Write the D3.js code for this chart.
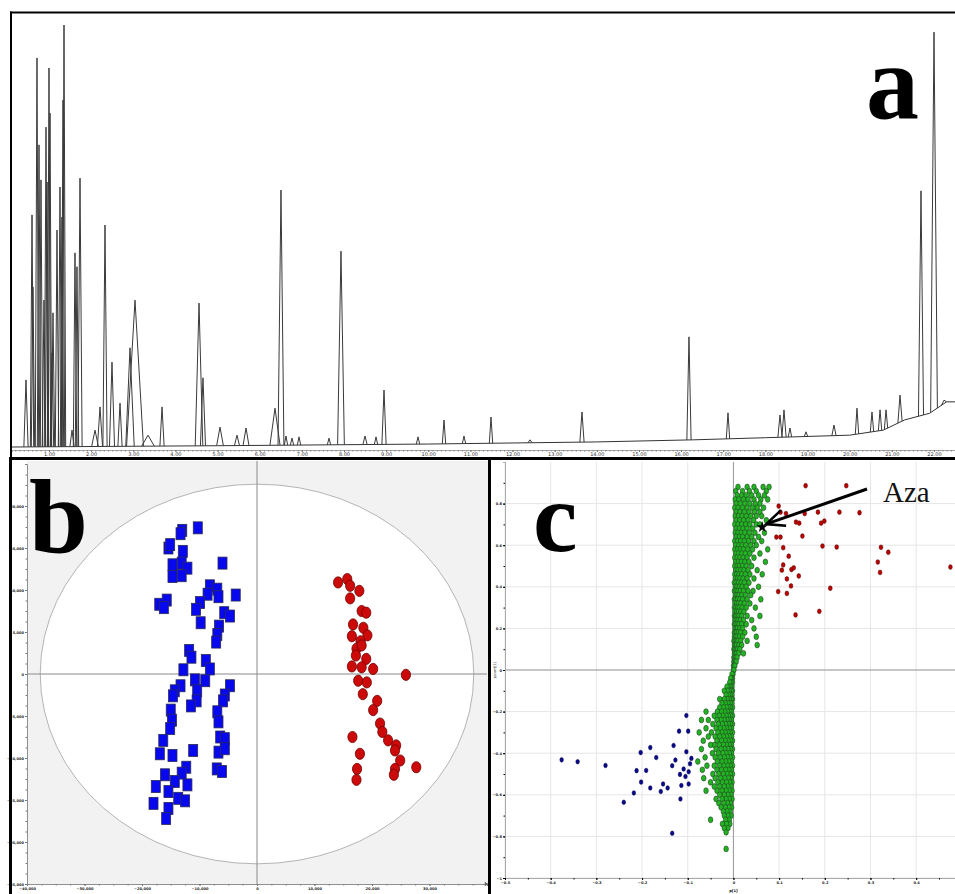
<!DOCTYPE html>
<html>
<head>
<meta charset="utf-8">
<script src="https://cdn.jsdelivr.net/npm/d3@7"></script>
<style>
  body { margin: 0; background: #fff; }
  svg { display: block; }
</style>
</head>
<body>
<svg id="fig" width="955" height="894"></svg>
<script>
// ---- panel a : chromatogram (retention time in min, relative abundance %) ----
// [retention time, apex abundance, half width]
const peaks = [
  [0.454, 15.9, 0.05], [0.597, 55.0, 0.04], [0.620, 37.9, 0.04], [0.715, 92.2, 0.04],
  [0.763, 71.6, 0.04], [0.810, 63.3, 0.04], [0.881, 34.8, 0.04], [0.929, 75.8, 0.04],
  [0.953, 62.8, 0.04], [1.000, 89.8, 0.04], [1.024, 79.1, 0.04], [1.071, 22.3, 0.04],
  [1.095, 31.8, 0.04], [1.190, 51.4, 0.04], [1.261, 61.6, 0.04], [1.308, 54.5, 0.04],
  [1.332, 82.2, 0.04], [1.356, 100, 0.04], [1.546, 4.0, 0.05], [1.617, 46.0, 0.04],
  [1.664, 42.7, 0.04], [1.736, 63.7, 0.05], [2.092, 4.0, 0.08], [2.210, 9.5, 0.06],
  [2.329, 52.6, 0.05], [2.495, 20.1, 0.06], [2.685, 10.4, 0.05], [2.922, 23.5, 0.10],
  [3.041, 34.8, 0.20], [3.349, 2.8, 0.15], [3.682, 9.5, 0.05], [4.560, 34.1, 0.09],
  [4.654, 16.4, 0.06], [5.058, 4.7, 0.08], [5.461, 2.8, 0.06], [5.675, 4.5, 0.07],
  [6.363, 9.2, 0.12], [6.505, 60.9, 0.07], [6.624, 2.6, 0.04], [6.767, 2.1, 0.04],
  [6.933, 2.4, 0.04], [7.645, 2.1, 0.04], [7.929, 46.4, 0.08], [8.499, 2.6, 0.05],
  [8.760, 2.4, 0.04], [8.950, 13.5, 0.05], [9.757, 2.4, 0.04], [10.374, 6.4, 0.04],
  [10.848, 2.6, 0.04], [11.489, 7.1, 0.04], [12.414, 1.7, 0.05], [13.648, 8.3, 0.05],
  [16.187, 26.1, 0.05], [17.113, 8.1, 0.04], [18.347, 7.6, 0.05], [18.442, 8.8, 0.05],
  [18.584, 4.5, 0.04], [18.964, 3.6, 0.04], [19.628, 5.2, 0.05], [20.174, 9.2, 0.04],
  [20.530, 8.3, 0.04], [20.721, 8.8, 0.04], [20.863, 8.8, 0.04], [21.195, 12.3, 0.05],
  [21.693, 60.7, 0.06], [22.002, 98.3, 0.08], [22.239, 11.1, 0.06]
];
// baseline drift [retention time, abundance]
const baseline = [
  [0.12, 0], [5, 0.3], [10, 0.7], [14, 1.2], [16.3, 1.7], [18, 2.2], [20, 2.8],
  [20.8, 4], [21.3, 6.4], [21.9, 8], [22.3, 10.7], [22.6, 10.7]
];
const timeTicks = [1, 2, 3, 4, 5, 6, 7, 8, 9, 10, 11, 12, 13, 14, 15, 16, 17, 18, 19, 20, 21, 22];

// ---- panel b : PCA score plot [t1, t2] ----
const blueScores = [
  [-10300, 17400], [-13000, 17100], [-13300, 16700], [-15400, 15000], [-15100, 15400],
  [-12900, 14600], [-14700, 13000], [-13100, 13200], [-12100, 12600], [-14700, 11600],
  [-13100, 11700], [-6000, 13200], [-17000, 8300], [-15700, 8800], [-16200, 7900],
  [-8200, 10500], [-6900, 10100], [-8600, 9500], [-6700, 9200], [-3700, 9400],
  [-9900, 8500], [-10600, 7700], [-9800, 6100], [-5700, 7300], [-4700, 6900],
  [-6600, 5700], [-6900, 4700], [-7100, 3800], [-11800, 2800], [-11400, 2000],
  [-8900, 1600], [-12800, 500], [-8200, 600], [-10800, -700], [-9000, -800],
  [-13300, -1400], [-10400, -2000], [-14300, -2000], [-10500, -3200], [-11500, -3800],
  [-4700, -1400], [-5600, -2500], [-5900, -3200], [-14600, -2600], [-15000, -4300],
  [-14800, -5500], [-15100, -6500], [-6900, -4500], [-6700, -5700], [-6400, -7500],
  [-5600, -7700], [-16300, -7900], [-16900, -9500], [-14700, -9700], [-11100, -9100],
  [-6700, -9300], [-5600, -8900], [-12300, -11100], [-13100, -11800], [-16000, -12000],
  [-7000, -11300], [-6100, -11600], [-17600, -13400], [-14300, -12800], [-12100, -13200],
  [-15400, -14000], [-13700, -14800], [-12500, -15100], [-18000, -15400], [-15400, -16000],
  [-15800, -17200]
];
const redScores = [
  [14100, 10900], [15700, 11300], [16200, 10500], [17800, 9900], [16200, 9000],
  [18200, 7500], [19000, 7300], [16700, 5900], [18500, 5500], [16500, 4500],
  [19200, 4600], [18000, 3900], [17300, 3000], [18200, 3400], [17200, 2200],
  [19000, 1800], [16500, 900], [18200, 800], [20200, 600], [25900, -100],
  [17600, -800], [19100, -1000], [18400, -2400], [20900, -3200], [20200, -4300],
  [21400, -5900], [21800, -6900], [16600, -7500], [22800, -7900], [24200, -8500],
  [24000, -9100], [17900, -9500], [24900, -10300], [27700, -11100], [24000, -11300],
  [17400, -11300], [23800, -12000], [17300, -12600]
];
const hotelling = [37700, 22600]; // T2 ellipse semi-axes
const bXTicks = [-40000, -30000, -20000, -10000, 0, 10000, 20000, 30000];
const bYTicks = [-25000, -20000, -15000, -10000, -5000, 0, 5000, 10000, 15000, 20000];

// ---- panel c : S-plot [p[1], p(corr)[1]] ----
// rows of the dense green cloud: [p(corr), [p values]]
const greenRows = [
  [0.88, [0.01, 0.03, 0.045, 0.065, 0.078]],
  [0.86, [0.005, 0.02, 0.035, 0.05, 0.072]],
  [0.84, [0.008, 0.018, 0.028, 0.04, 0.055, 0.068]],
  [0.82, [0.004, 0.012, 0.022, 0.032, 0.045, 0.06, 0.075]],
  [0.80, [0.006, 0.015, 0.025, 0.036, 0.048, 0.058]],
  [0.78, [0.003, 0.01, 0.02, 0.03, 0.042, 0.052, 0.066]],
  [0.76, [0.006, 0.014, 0.024, 0.034, 0.046, 0.058]],
  [0.74, [0.004, 0.011, 0.019, 0.028, 0.038, 0.05, 0.062]],
  [0.72, [0.006, 0.014, 0.022, 0.032, 0.044, 0.072]],
  [0.70, [0.003, 0.01, 0.018, 0.027, 0.036, 0.05, 0.058]],
  [0.68, [0.006, 0.013, 0.021, 0.03, 0.042]],
  [0.66, [0.004, 0.01, 0.017, 0.025, 0.035, 0.047, 0.068]],
  [0.64, [0.006, 0.013, 0.02, 0.03, 0.04, 0.055]],
  [0.62, [0.003, 0.009, 0.016, 0.024, 0.033, 0.045, 0.062]],
  [0.60, [0.005, 0.012, 0.019, 0.027, 0.038, 0.05]],
  [0.58, [0.003, 0.009, 0.015, 0.022, 0.031, 0.042, 0.075]],
  [0.56, [0.005, 0.011, 0.018, 0.026, 0.036, 0.058]],
  [0.54, [0.003, 0.008, 0.014, 0.021, 0.03, 0.045]],
  [0.52, [0.005, 0.011, 0.017, 0.025, 0.034, 0.07]],
  [0.50, [0.003, 0.008, 0.013, 0.02, 0.028, 0.04]],
  [0.48, [0.005, 0.01, 0.016, 0.023, 0.032, 0.052]],
  [0.46, [0.003, 0.007, 0.012, 0.018, 0.026, 0.036, 0.063]],
  [0.44, [0.004, 0.009, 0.014, 0.021, 0.03, 0.045]],
  [0.42, [0.002, 0.006, 0.011, 0.017, 0.024, 0.034]],
  [0.40, [0.004, 0.008, 0.013, 0.019, 0.028, 0.055]],
  [0.38, [0.002, 0.006, 0.01, 0.015, 0.022, 0.032, 0.043]],
  [0.36, [0.004, 0.008, 0.012, 0.018, 0.026, 0.038]],
  [0.34, [0.002, 0.005, 0.009, 0.014, 0.02, 0.03, 0.06]],
  [0.32, [0.003, 0.007, 0.011, 0.016, 0.024, 0.036]],
  [0.30, [0.002, 0.005, 0.009, 0.013, 0.019, 0.028, 0.048]],
  [0.28, [0.003, 0.007, 0.011, 0.016, 0.023]],
  [0.26, [0.002, 0.005, 0.008, 0.012, 0.018, 0.03, 0.058]],
  [0.24, [0.003, 0.006, 0.01, 0.015, 0.022, 0.04]],
  [0.22, [0.002, 0.004, 0.008, 0.012, 0.018, 0.028]],
  [0.20, [0.003, 0.006, 0.009, 0.014, 0.02, 0.045]],
  [0.18, [0.002, 0.004, 0.007, 0.011, 0.016, 0.025]],
  [0.16, [0.002, 0.005, 0.008, 0.013, 0.02, 0.05]],
  [0.14, [0.001, 0.004, 0.007, 0.01, 0.016, 0.03]],
  [0.12, [0.002, 0.004, 0.007, 0.012, 0.018, 0.052]],
  [0.10, [0.001, 0.003, 0.006, 0.009, 0.014]],
  [0.08, [0.002, 0.004, 0.007, 0.011, 0.022]],
  [0.06, [0.001, 0.003, 0.005, 0.008]],
  [0.04, [0.001, 0.002, 0.004, 0.006]],
  [0.02, [0.0, 0.002, 0.003]],
  [0.00, [0.0, 0.001]],
  [-0.02, [-0.001, -0.003]],
  [-0.04, [-0.002, -0.004, -0.006]],
  [-0.06, [-0.002, -0.005, -0.008]],
  [-0.08, [-0.003, -0.006, -0.01, -0.014]],
  [-0.10, [-0.002, -0.005, -0.009, -0.013, -0.02]],
  [-0.12, [-0.003, -0.007, -0.011, -0.016]],
  [-0.14, [-0.002, -0.005, -0.009, -0.014, -0.02, -0.03]],
  [-0.16, [-0.003, -0.007, -0.012, -0.018, -0.025]],
  [-0.18, [-0.002, -0.006, -0.01, -0.015, -0.022, -0.03]],
  [-0.20, [-0.004, -0.008, -0.013, -0.019, -0.026, -0.035, -0.06]],
  [-0.22, [-0.002, -0.006, -0.011, -0.016, -0.023, -0.031, -0.042]],
  [-0.24, [-0.004, -0.009, -0.014, -0.02, -0.027, -0.036, -0.055, -0.07]],
  [-0.26, [-0.002, -0.006, -0.011, -0.017, -0.024, -0.033, -0.045]],
  [-0.28, [-0.004, -0.009, -0.015, -0.021, -0.029, -0.038, -0.06]],
  [-0.30, [-0.002, -0.007, -0.012, -0.018, -0.025, -0.034, -0.048, -0.075]],
  [-0.32, [-0.004, -0.009, -0.015, -0.022, -0.03, -0.04, -0.055]],
  [-0.34, [-0.002, -0.006, -0.012, -0.018, -0.026, -0.036, -0.066]],
  [-0.36, [-0.004, -0.009, -0.015, -0.022, -0.031, -0.042, -0.05]],
  [-0.38, [-0.002, -0.006, -0.012, -0.019, -0.027, -0.038, -0.07]],
  [-0.40, [-0.004, -0.009, -0.016, -0.023, -0.033, -0.046]],
  [-0.42, [-0.002, -0.007, -0.013, -0.02, -0.029, -0.04, -0.062]],
  [-0.44, [-0.004, -0.01, -0.017, -0.025, -0.035, -0.078]],
  [-0.46, [-0.002, -0.007, -0.013, -0.021, -0.03, -0.042, -0.058]],
  [-0.48, [-0.004, -0.01, -0.017, -0.026, -0.036, -0.068]],
  [-0.50, [-0.002, -0.007, -0.014, -0.022, -0.032, -0.045]],
  [-0.52, [-0.005, -0.011, -0.019, -0.028, -0.04, -0.065]],
  [-0.54, [-0.003, -0.008, -0.015, -0.024, -0.034, -0.05]],
  [-0.56, [-0.005, -0.012, -0.02, -0.03, -0.042]],
  [-0.58, [-0.003, -0.009, -0.016, -0.025, -0.036, -0.06]],
  [-0.60, [-0.005, -0.012, -0.02, -0.03]],
  [-0.62, [-0.003, -0.009, -0.016, -0.025, -0.038]],
  [-0.64, [-0.006, -0.013, -0.021, -0.032]],
  [-0.66, [-0.004, -0.01, -0.018, -0.027]],
  [-0.68, [-0.007, -0.014, -0.022]],
  [-0.70, [-0.005, -0.012, -0.02]],
  [-0.72, [-0.009, -0.017, -0.05]],
  [-0.74, [-0.008, -0.015, -0.024]],
  [-0.76, [-0.012, -0.02]],
  [-0.78, [-0.016]],
  [-0.86, [-0.016]]
];
const bluePoints = [
  [-0.103, -0.219], [-0.119, -0.294], [-0.099, -0.294], [-0.131, -0.363], [-0.182, -0.373],
  [-0.203, -0.397], [-0.169, -0.421], [-0.103, -0.393], [-0.092, -0.425], [-0.127, -0.433],
  [-0.134, -0.460], [-0.095, -0.451], [-0.280, -0.459], [-0.109, -0.476], [-0.098, -0.489],
  [-0.212, -0.484], [-0.191, -0.483], [-0.117, -0.502], [-0.105, -0.512], [-0.202, -0.539],
  [-0.154, -0.548], [-0.114, -0.555], [-0.098, -0.548], [-0.182, -0.567], [-0.144, -0.567],
  [-0.159, -0.584], [-0.218, -0.591], [-0.116, -0.620], [-0.240, -0.636], [-0.134, -0.785],
  [-0.376, -0.432], [-0.341, -0.441]
];
const redPoints = [
  [0.158, 0.886], [0.247, 0.886], [0.099, 0.788], [0.103, 0.759], [0.115, 0.752],
  [0.156, 0.752], [0.185, 0.759], [0.232, 0.759], [0.276, 0.756], [0.137, 0.711],
  [0.144, 0.706], [0.199, 0.716], [0.192, 0.706], [0.094, 0.639], [0.103, 0.639],
  [0.151, 0.644], [0.109, 0.588], [0.195, 0.596], [0.226, 0.591], [0.323, 0.590],
  [0.339, 0.566], [0.121, 0.547], [0.316, 0.519], [0.109, 0.505], [0.127, 0.483],
  [0.132, 0.491], [0.106, 0.480], [0.321, 0.469], [0.143, 0.452], [0.117, 0.438],
  [0.475, 0.495], [0.126, 0.404], [0.212, 0.393], [0.098, 0.377], [0.117, 0.368],
  [0.136, 0.265], [0.188, 0.282]
];
const aza = [0.063, 0.687];
const cXTicks = [-0.5, -0.4, -0.3, -0.2, -0.1, 0, 0.1, 0.2, 0.3, 0.4];
const cYTicks = [-1, -0.8, -0.6, -0.4, -0.2, 0, 0.2, 0.4, 0.6, 0.8];

const svg = d3.select("#fig");
const tiny = "DejaVu Sans";

// ================= panel a =================
const xA = d3.scaleLinear().domain([0.122, 22.5]).range([12, 955]);
const yA = d3.scaleLinear().domain([0, 100]).range([447, 25]);
const base = d3.scaleLinear().domain(baseline.map(d => d[0])).range(baseline.map(d => d[1]));
const lineA = d3.line().x(d => xA(d[0])).y(d => yA(d[1]));

svg.append("clipPath").attr("id", "clipA")
  .append("rect").attr("x", 12).attr("y", 13).attr("width", 943).attr("height", 436);
const gA = svg.append("g").attr("clip-path", "url(#clipA)");

gA.append("path").datum(baseline).attr("d", lineA)
  .attr("fill", "none").attr("stroke", "#333").attr("stroke-width", 1);
gA.selectAll("path.peak").data(peaks).join("path").attr("class", "peak")
  .attr("d", ([rt, h, hw]) => lineA([[rt - hw, base(rt - hw)], [rt, h], [rt + hw, base(rt + hw)]]))
  .attr("fill", "none").attr("stroke", "#3a3a3a").attr("stroke-width", 1)
  .attr("stroke-linejoin", "miter");

const axA = svg.append("g").attr("transform", "translate(0,450)")
  .call(d3.axisBottom(xA).tickValues(timeTicks).tickFormat(d3.format(".2f")).tickSize(2).tickPadding(0.5));
axA.select(".domain").attr("stroke", "#444").attr("stroke-width", 0.8);
axA.selectAll("text").attr("font-family", tiny).attr("font-size", 5).attr("fill", "#333");
svg.append("g").attr("transform", "translate(0,450)")
  .call(d3.axisBottom(xA).tickValues(d3.range(2, 225).map(i => i / 10)).tickSize(1.6).tickFormat(""))
  .call(g => g.select(".domain").remove())
  .selectAll("line").attr("stroke", "#555").attr("stroke-width", 0.8);

// ================= panel b =================
const xB = d3.scaleLinear().domain([-40000, 40000]).range([27, 487]);
const yB = d3.scaleLinear().domain([-25000, 25000]).range([884, 464]);

svg.append("rect").attr("x", 27).attr("y", 461).attr("width", 462).attr("height", 423).attr("fill", "#f2f2f2");
svg.append("ellipse").attr("cx", xB(0)).attr("cy", yB(0))
  .attr("rx", xB(hotelling[0]) - xB(0)).attr("ry", yB(0) - yB(hotelling[1]))
  .attr("fill", "#fff").attr("stroke", "#b4b4b4").attr("stroke-width", 1);
svg.append("line").attr("x1", xB(0)).attr("x2", xB(0)).attr("y1", 461).attr("y2", 884)
  .attr("stroke", "#8a8a8a").attr("stroke-width", 1);
svg.append("line").attr("x1", 27).attr("x2", 487).attr("y1", yB(0)).attr("y2", yB(0))
  .attr("stroke", "#8a8a8a").attr("stroke-width", 1);

const fmtB = d3.format(",");
const axBY = svg.append("g").attr("transform", "translate(27,0)")
  .call(d3.axisLeft(yB).tickValues(bYTicks).tickFormat(fmtB).tickSize(2).tickPadding(1));
const axBX = svg.append("g").attr("transform", "translate(0,884)")
  .call(d3.axisBottom(xB).tickValues(bXTicks).tickFormat(fmtB).tickSize(2).tickPadding(1));
svg.append("g").attr("transform", "translate(27,0)")
  .call(d3.axisLeft(yB).tickValues(d3.range(-25000, 25001, 1250)).tickSize(1.5).tickFormat(""))
  .call(g => g.select(".domain").remove());
svg.append("g").attr("transform", "translate(0,884)")
  .call(d3.axisBottom(xB).tickValues(d3.range(-40000, 40001, 2500)).tickSize(1.5).tickFormat(""))
  .call(g => g.select(".domain").remove());
[axBX, axBY].forEach(g => {
  g.selectAll("text").attr("font-family", tiny).attr("font-weight", "bold").attr("font-size", 3.6).attr("fill", "#222");
});
svg.selectAll("g .domain").attr("stroke", "#8f8f8f");
svg.selectAll("g .tick line").attr("stroke", "#777");
svg.append("path").attr("d", d3.symbol(d3.symbolTriangle).size(8)())
  .attr("transform", `translate(${xB(40000) - 1},884) rotate(90)`).attr("fill", "#666");

const gB = svg.append("g");
gB.selectAll("rect.blue").data(blueScores).join("rect").attr("class", "blue")
  .attr("x", d => xB(d[0]) - 4.5).attr("y", d => yB(d[1]) - 6)
  .attr("width", 9).attr("height", 12)
  .attr("fill", "#0808ee").attr("stroke", "#2a2a55").attr("stroke-width", 0.8);
gB.selectAll("ellipse.red").data(redScores).join("ellipse").attr("class", "red")
  .attr("cx", d => xB(d[0])).attr("cy", d => yB(d[1]))
  .attr("rx", 4.6).attr("ry", 5.6)
  .attr("fill", "#cc0a0a").attr("stroke", "#6e0000").attr("stroke-width", 0.8);

svg.append("text").attr("x", 29).attr("y", 553)
  .attr("font-family", "Liberation Serif").attr("font-weight", "bold").attr("font-size", 106)
  .attr("fill", "#000").text("b");

// ================= panel c =================
const xC = d3.scaleLinear().domain([-0.5, 0.485]).range([505, 955]);
const yC = d3.scaleLinear().domain([-1, 1]).range([878, 462]);

const gridC = svg.append("g");
gridC.selectAll("line.vx").data(cXTicks).join("line")
  .attr("x1", d => xC(d)).attr("x2", d => xC(d)).attr("y1", 462).attr("y2", 878)
  .attr("stroke", "#e6e6e6").attr("stroke-width", 1);
gridC.selectAll("line.hy").data(cYTicks).join("line")
  .attr("x1", 505).attr("x2", 955).attr("y1", d => yC(d)).attr("y2", d => yC(d))
  .attr("stroke", "#e6e6e6").attr("stroke-width", 1);
gridC.append("line").attr("x1", xC(0)).attr("x2", xC(0)).attr("y1", 462).attr("y2", 878)
  .attr("stroke", "#999").attr("stroke-width", 1);
gridC.append("line").attr("x1", 505).attr("x2", 955).attr("y1", yC(0)).attr("y2", yC(0))
  .attr("stroke", "#999").attr("stroke-width", 1);

const fmtC = d3.format("~g");
const axCY = svg.append("g").attr("transform", "translate(505,0)")
  .call(d3.axisLeft(yC).tickValues(cYTicks).tickFormat(fmtC).tickSize(2).tickPadding(1));
const axCX = svg.append("g").attr("transform", "translate(0,878)")
  .call(d3.axisBottom(xC).tickValues(cXTicks).tickFormat(fmtC).tickSize(2).tickPadding(1.5));
svg.append("g").attr("transform", "translate(505,0)")
  .call(d3.axisLeft(yC).tickValues(d3.range(-10, 10).map(i => i / 10)).tickSize(1.5).tickFormat(""))
  .call(g => g.select(".domain").remove());
svg.append("g").attr("transform", "translate(0,878)")
  .call(d3.axisBottom(xC).tickValues(d3.range(-10, 10).map(i => i / 20)).tickSize(1.5).tickFormat(""))
  .call(g => g.select(".domain").remove());
[axCX, axCY].forEach(g => {
  g.select(".domain").attr("stroke", "#aaa");
  g.selectAll("text").attr("font-family", tiny).attr("font-weight", "bold").attr("font-size", 3.6).attr("fill", "#222");
});
svg.append("text").attr("x", xC(0)).attr("y", 892).attr("text-anchor", "middle")
  .attr("font-family", tiny).attr("font-weight", "bold").attr("font-size", 3.6).text("p[1]");
svg.append("text").attr("transform", `translate(496,${yC(0)}) rotate(-90)`).attr("text-anchor", "middle")
  .attr("font-family", tiny).attr("font-size", 3.4).text("p(corr)[1]");

svg.append("clipPath").attr("id", "clipC")
  .append("rect").attr("x", 505).attr("y", 461).attr("width", 450).attr("height", 417);
const gC = svg.append("g").attr("clip-path", "url(#clipC)");
const greenPoints = greenRows.flatMap(([r, ps]) => ps.map(p => [p, r]));
gC.selectAll("ellipse.green").data(greenPoints).join("ellipse").attr("class", "green")
  .attr("cx", d => xC(d[0])).attr("cy", d => yC(d[1]))
  .attr("rx", 2.3).attr("ry", 2.9)
  .attr("fill", "#20b420").attr("stroke", "#28402a").attr("stroke-width", 0.6);
gC.selectAll("ellipse.cblue").data(bluePoints).join("ellipse").attr("class", "cblue")
  .attr("cx", d => xC(d[0])).attr("cy", d => yC(d[1]))
  .attr("rx", 1.8).attr("ry", 2.3)
  .attr("fill", "#0a0a90").attr("stroke", "#000040").attr("stroke-width", 0.5);
gC.selectAll("ellipse.cred").data(redPoints).join("ellipse").attr("class", "cred")
  .attr("cx", d => xC(d[0])).attr("cy", d => yC(d[1]))
  .attr("rx", 1.9).attr("ry", 2.4)
  .attr("fill", "#bb0000").attr("stroke", "#550000").attr("stroke-width", 0.5);
gC.append("path").attr("d", d3.symbol(d3.symbolStar).size(40)())
  .attr("transform", `translate(${xC(aza[0])},${yC(aza[1])})`).attr("fill", "#000");

// arrow to Aza
const tip = [xC(aza[0]) + 4, yC(aza[1]) - 3];
const tail = [867, 489];
const ang = Math.atan2(tail[1] - tip[1], tail[0] - tip[0]);
svg.append("line").attr("x1", tail[0]).attr("y1", tail[1]).attr("x2", tip[0] + 2 * Math.cos(ang)).attr("y2", tip[1] + 2 * Math.sin(ang))
  .attr("stroke", "#000").attr("stroke-width", 3);
const arm = 20, spread = 0.42;
svg.append("path")
  .attr("d", `M${tip[0] + arm * Math.cos(ang - spread)},${tip[1] + arm * Math.sin(ang - spread)}L${tip[0]},${tip[1]}L${tip[0] + arm * Math.cos(ang + spread)},${tip[1] + arm * Math.sin(ang + spread)}`)
  .attr("fill", "none").attr("stroke", "#000").attr("stroke-width", 2.6).attr("stroke-linejoin", "miter");
svg.append("text").attr("x", 883).attr("y", 502)
  .attr("font-family", "Liberation Serif").attr("font-size", 29).attr("fill", "#111").text("Aza");

svg.append("text").attr("x", 533).attr("y", 551)
  .attr("font-family", "Liberation Serif").attr("font-weight", "bold").attr("font-size", 100)
  .attr("fill", "#000").text("c");

// letter a
svg.append("text").attr("x", 866).attr("y", 118)
  .attr("font-family", "Liberation Serif").attr("font-weight", "bold").attr("font-size", 106)
  .attr("fill", "#000").text("a");

// ================= frames =================
const frame = svg.append("g").attr("stroke", "#000");
frame.append("line").attr("x1", 10).attr("x2", 955).attr("y1", 12.5).attr("y2", 12.5).attr("stroke-width", 2);
frame.append("line").attr("x1", 11).attr("x2", 11).attr("y1", 11.5).attr("y2", 460).attr("stroke-width", 2);
frame.append("line").attr("x1", 10.5).attr("x2", 10.5).attr("y1", 458).attr("y2", 894).attr("stroke-width", 3);
frame.append("line").attr("x1", 9).attr("x2", 955).attr("y1", 458.5).attr("y2", 458.5).attr("stroke-width", 3);
frame.append("line").attr("x1", 489.5).attr("x2", 489.5).attr("y1", 457).attr("y2", 894).attr("stroke-width", 3);
</script>
</body>
</html>
